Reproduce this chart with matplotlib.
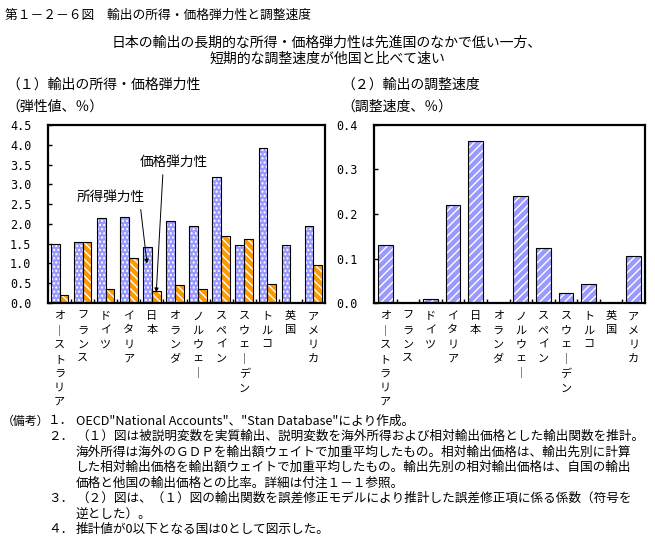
import numpy as np
import matplotlib
matplotlib.use('Agg')
import matplotlib.pyplot as plt
from matplotlib.ticker import FormatStrFormatter

plt.rcParams['font.family'] = ['Noto Sans CJK JP', 'DejaVu Sans']
plt.rcParams['hatch.linewidth'] = 1.0

# data
countries = ['オーストラリア', 'フランス', 'ドイツ', 'イタリア', '日本', 'オランダ',
             'ノルウェー', 'スペイン', 'スウェーデン', 'トルコ', '英国', 'アメリカ']
income_elast = [1.50, 1.54, 2.14, 2.18, 1.41, 2.08, 1.95, 3.18, 1.47, 3.91, 1.47, 1.95]
price_elast = [0.20, 1.54, 0.35, 1.14, 0.31, 0.45, 0.35, 1.70, 1.61, 0.48, 0.0, 0.97]
adjust_speed = [0.131, 0.0, 0.009, 0.220, 0.364, 0.0, 0.240, 0.123, 0.023, 0.043, 0.0, 0.105]

notes = [
    ('（備考）', '１．', 'OECD"National Accounts"、"Stan Database"により作成。'),
    ('', '２．', '（１）図は被説明変数を実質輸出、説明変数を海外所得および相対輸出価格とした輸出関数を推計。'),
    ('', '', '海外所得は海外のＧＤＰを輸出額ウェイトで加重平均したもの。相対輸出価格は、輸出先別に計算'),
    ('', '', 'した相対輸出価格を輸出額ウェイトで加重平均したもの。輸出先別の相対輸出価格は、自国の輸出'),
    ('', '', '価格と他国の輸出価格との比率。詳細は付注１－１参照。'),
    ('', '３．', '（２）図は、（１）図の輸出関数を誤差修正モデルにより推計した誤差修正項に係る係数（符号を'),
    ('', '', '逆とした）。'),
    ('', '４．', '推計値が0以下となる国は0として図示した。'),
]

W, H = 655, 540
BLUE = '#9999ff'
ORANGE = '#ff9900'


def px(x):
    return x / W


def py(y):
    return 1 - y / H


def vert(s):
    # stack the characters to read top-down, long vowel mark turned upright
    return '\n'.join('｜' if c == 'ー' else c for c in s)


def hatched_bar(ax, x, h, w, color, hatch):
    ax.bar(x, h, w, color=color, edgecolor='white', hatch=hatch, linewidth=0, zorder=2)
    ax.bar(x, h, w, fill=False, edgecolor='black', linewidth=0.8, zorder=3)


def style_axes(ax, ymax, step):
    ax.set_xlim(-0.5, 11.5)
    ax.set_ylim(0, ymax)
    ax.set_yticks(np.arange(0, ymax + step / 2, step))
    ax.yaxis.set_major_formatter(FormatStrFormatter('%.1f'))
    for s in ax.spines.values():
        s.set_linewidth(1.6)
    ax.tick_params(axis='y', direction='in', length=3, width=1, pad=12,
                   labelsize=8.5, labelfontfamily='DejaVu Sans Mono')
    ax.set_xticks(range(len(countries)))
    ax.set_xticklabels([vert(c) for c in countries], fontsize=8, linespacing=1.5, va='top')
    ax.tick_params(axis='x', which='major', length=0, pad=6)
    ax.set_xticks(np.arange(0.5, len(countries) - 1, 1), minor=True)
    ax.tick_params(axis='x', which='minor', direction='in', length=3, width=1)


fig = plt.figure(figsize=(6.55, 5.4), dpi=100)

ax1 = fig.add_axes([px(48), py(303), px(277), (303 - 125) / H])
ax2 = fig.add_axes([px(374), py(303), px(271), (303 - 125) / H])

x = np.arange(len(countries))
hatched_bar(ax1, x - 0.19, income_elast, 0.38, BLUE, '....')
hatched_bar(ax1, x + 0.19, price_elast, 0.38, ORANGE, '\\\\\\\\')
style_axes(ax1, 4.5, 0.5)

hatched_bar(ax2, x, adjust_speed, 0.66, BLUE, '////')
style_axes(ax2, 0.4, 0.1)

ax1.annotate('価格弾力性', xy=(4.19, 0.27), xytext=(4.93, 3.56), ha='center', va='center',
             fontsize=9.8,
             arrowprops=dict(arrowstyle='-|>', color='black', lw=0.7, mutation_scale=6,
                             relpos=(0.35, 0), shrinkA=2, shrinkB=0))
ax1.annotate('所得弾力性', xy=(3.79, 1.0), xytext=(2.22, 2.68), ha='center', va='center',
             fontsize=9.8,
             arrowprops=dict(arrowstyle='-|>', color='black', lw=0.7, mutation_scale=6,
                             relpos=(0.93, 0), shrinkA=2, shrinkB=0))

fig.text(px(5), py(15), '第１－２－６図　輸出の所得・価格弾力性と調整速度', fontsize=9.2, va='center')
fig.text(px(327), py(43), '日本の輸出の長期的な所得・価格弾力性は先進国のなかで低い一方、',
         fontsize=10, ha='center', va='center')
fig.text(px(327), py(59), '短期的な調整速度が他国と比べて速い', fontsize=10, ha='center', va='center')

fig.text(px(6), py(85), '（１）輸出の所得・価格弾力性', fontsize=10, va='center')
fig.text(px(341), py(85), '（２）輸出の調整速度', fontsize=10, va='center')
fig.text(px(6), py(107), '（弾性値、％）', fontsize=10, va='center')
fig.text(px(341), py(107), '（調整速度、％）', fontsize=10, va='center')

for i, (head, num, body) in enumerate(notes):
    y = 421 + 15.5 * i
    if head:
        fig.text(px(2), py(y), head, fontsize=8.6, va='center')
    if num:
        fig.text(px(48), py(y), num, fontsize=9.1, va='center')
    fig.text(px(76), py(y), body, fontsize=9.1, va='center')

fig.savefig('out.png', dpi=100)
